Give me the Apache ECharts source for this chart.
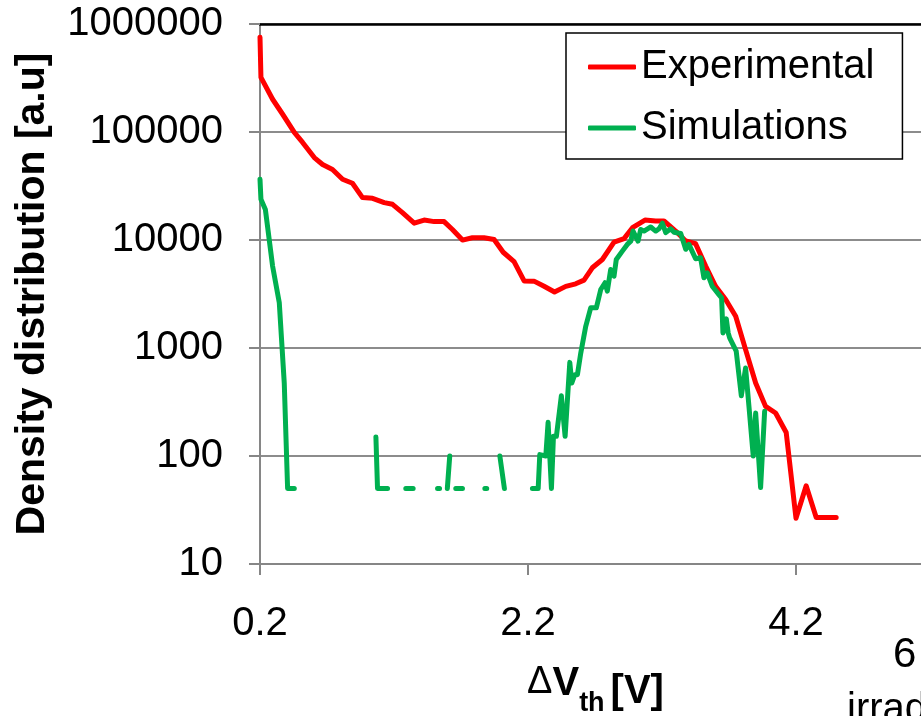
<!DOCTYPE html>
<html>
<head>
<meta charset="utf-8">
<script src="https://cdn.jsdelivr.net/npm/echarts@6/dist/echarts.min.js"></script>
<style>
html,body{margin:0;padding:0;background:#fff;}
#chart{width:921px;height:716px;}
</style>
</head>
<body>
<div id="chart"></div>
<script>
// ---- data ----
const xTicks = [0.2, 2.2, 4.2];
const yTicks = [10, 100, 1000, 10000, 100000, 1000000];

const expX = [0.2, 0.207, 0.294, 0.369, 0.456, 0.518, 0.605, 0.667, 0.741, 0.816, 0.89, 0.965, 1.04, 1.127, 1.189, 1.263, 1.351, 1.425, 1.5, 1.574, 1.636, 1.711, 1.785, 1.872, 1.947, 2.015, 2.096, 2.171, 2.245, 2.32, 2.398, 2.482, 2.556, 2.618, 2.68, 2.755, 2.842, 2.917, 2.98, 3.073, 3.153, 3.215, 3.302, 3.377, 3.451, 3.526, 3.6, 3.675, 3.75, 3.824, 3.899, 3.973, 4.048, 4.127, 4.2, 4.276, 4.351, 4.5];
const expY = [753000, 320000, 201000, 146000, 99000, 80000, 58000, 50000, 45000, 36500, 33500, 24700, 24300, 22200, 21400, 17900, 14300, 15300, 14800, 14800, 12500, 9980, 10500, 10500, 10100, 7700, 6300, 4180, 4160, 3730, 3300, 3720, 3930, 4250, 5530, 6600, 9550, 10300, 13000, 15300, 15000, 15000, 12100, 9800, 9250, 5730, 3730, 2810, 1970, 966, 474, 288, 250, 165, 26.5, 53, 27, 27];

const simX = [0.2, 0.207, 0.24, 0.294, 0.344, 0.381, 0.406, 0.456, 0.7,
  1.065, 1.077, 1.152, 1.2,
  1.288, 1.343, 1.45,
  1.525, 1.54, 1.57,
  1.598, 1.616, 1.64,
  1.661, 1.711, 1.8,
  1.878, 1.892, 1.95,
  1.99, 2.024, 2.1,
  2.233, 2.276, 2.288, 2.333, 2.35, 2.375, 2.39, 2.412, 2.449, 2.477, 2.512, 2.527, 2.549, 2.569, 2.594, 2.631, 2.668, 2.71, 2.743, 2.775, 2.792, 2.817, 2.842, 2.859, 2.904, 2.941, 2.967, 2.984, 3.021, 3.041, 3.066, 3.116, 3.153, 3.178, 3.203, 3.228, 3.265, 3.29, 3.34, 3.377, 3.401, 3.451, 3.488, 3.513, 3.538, 3.575, 3.625, 3.645, 3.655, 3.68, 3.694, 3.705, 3.754, 3.792, 3.824, 3.849, 3.881, 3.899, 3.936, 3.966];
const simY = [36500, 23800, 19200, 5730, 2620, 474, 50, 50, null,
  150, 50, 50, null,
  50, 50, null,
  50, 50, null,
  50, 100, null,
  50, 50, null,
  50, 50, null,
  100, 50, null,
  50, 50, 103, 100, 205, 50, 152, 152, 361, 152, 736, 474, 566, 566, 900, 1589, 2355, 2355, 3480, 4020, 3360, 5330, 4620, 6610, 7890, 9100, 9770, 12100, 9770, 12500, 12100, 13200, 12100, 12700, 14300, 11700, 12700, 11800, 11500, 8200, 9100, 6700, 6850, 4470, 4970, 3730, 3120, 2910, 1380, 1860, 1380, 1240, 934, 361, 653, 288, 100, 250, 51, 259];

const seriesNames = ['Experimental', 'Simulations'];
const yName = 'Density distribution [a.u]';

// ---- chart ----
const FONT = '"Liberation Sans", Arial, sans-serif';
const chart = echarts.init(document.getElementById('chart'), null, {renderer: 'canvas'});

const expData = expX.map((x, i) => [x, expY[i]]);
const simData = simX.map((x, i) => [x, simY[i]]);

const X_MIN = 0.2, X_MAX = 5.133;

const option = {
  animation: false,
  backgroundColor: '#ffffff',
  grid: {left: 260, top: 24, bottom: 152, right: 0, containLabel: false, outerBoundsMode: 'none'},
  legend: {
    orient: 'vertical',
    left: 566,
    top: 33,
    padding: [14, 28, 11, 22],
    itemGap: 21,
    itemWidth: 48,
    itemHeight: 5,
    backgroundColor: '#ffffff',
    borderColor: '#000000',
    borderWidth: 1.5,
    borderRadius: 0,
    textStyle: {fontFamily: FONT, fontSize: 40, color: '#000', lineHeight: 40},
    data: [
      {name: seriesNames[0], icon: 'roundRect'},
      {name: seriesNames[1], icon: 'roundRect'}
    ]
  },
  xAxis: [{
    type: 'value',
    min: X_MIN,
    max: X_MAX,
    interval: 2,
    position: 'bottom',
    axisLine: {show: true, lineStyle: {color: '#868686', width: 2}},
    axisTick: {show: true, length: 11, lineStyle: {color: '#868686', width: 2}, customValues: xTicks},
    axisLabel: {
      customValues: xTicks,
      margin: 40,
      fontFamily: FONT, fontSize: 40, color: '#000', lineHeight: 40,
      formatter: v => v.toFixed(1)
    },
    splitLine: {show: false},
    name: '{d|Δ}{v|V}{s|th}{b|[V]}',
    nameLocation: 'middle',
    nameGap: 100,
    nameTextStyle: {
      padding: [0, 0, 0, 10],
      rich: {
        d: {fontFamily: FONT, fontSize: 38, fontWeight: 'normal', color: '#000', lineHeight: 40, verticalAlign: 'top'},
        v: {fontFamily: FONT, fontSize: 40, fontWeight: 'bold', color: '#000', lineHeight: 40, verticalAlign: 'top'},
        s: {fontFamily: FONT, fontSize: 27, fontWeight: 'bold', color: '#000', lineHeight: 27, verticalAlign: 'top', padding: [26, 6, 0, 0]},
        b: {fontFamily: FONT, fontSize: 40, fontWeight: 'bold', color: '#000', lineHeight: 40, verticalAlign: 'top', padding: [8, 0, 0, 0]}
      }
    }
  }, {
    type: 'value',
    min: X_MIN,
    max: X_MAX,
    position: 'top',
    axisLine: {show: true, lineStyle: {color: '#000', width: 2.5}},
    axisTick: {show: false},
    axisLabel: {show: false},
    splitLine: {show: false}
  }],
  yAxis: {
    type: 'log',
    logBase: 10,
    min: yTicks[0],
    max: yTicks[yTicks.length - 1],
    axisLine: {show: true, lineStyle: {color: '#868686', width: 2}},
    axisTick: {show: true, length: 11, inside: false, lineStyle: {color: '#868686', width: 2}},
    axisLabel: {
      margin: 37,
      padding: [6, 0, 0, 0],
      fontFamily: FONT, fontSize: 40, color: '#000', lineHeight: 40,
      formatter: v => String(Math.round(v))
    },
    splitLine: {show: true, lineStyle: {color: '#8c8c8c', width: 2}},
    minorTick: {show: false},
    name: yName,
    nameLocation: 'middle',
    nameRotate: 90,
    nameGap: 207,
    nameTextStyle: {fontFamily: FONT, fontSize: 41, fontWeight: 'bold', color: '#000', lineHeight: 41}
  },
  series: [{
    name: seriesNames[0],
    type: 'line',
    data: expData,
    showSymbol: false,
    symbol: 'none',
    connectNulls: false,
    color: '#ff0000',
    itemStyle: {color: '#ff0000'},
    lineStyle: {color: '#ff0000', width: 5, cap: 'round', join: 'round'},
    z: 2
  }, {
    name: seriesNames[1],
    type: 'line',
    data: simData,
    showSymbol: false,
    symbol: 'none',
    connectNulls: false,
    color: '#00b050',
    itemStyle: {color: '#00b050'},
    lineStyle: {color: '#00b050', width: 5, cap: 'round', join: 'round'},
    z: 3
  }],
  graphic: [
    {type: 'text', left: 893, top: 634, style: {text: '6', font: '42px ' + FONT, fill: '#000'}},
    {type: 'text', left: 847, top: 690, style: {text: 'irradiation', font: '40px ' + FONT, fill: '#000'}}
  ]
};
chart.setOption(option);
</script>
</body>
</html>
